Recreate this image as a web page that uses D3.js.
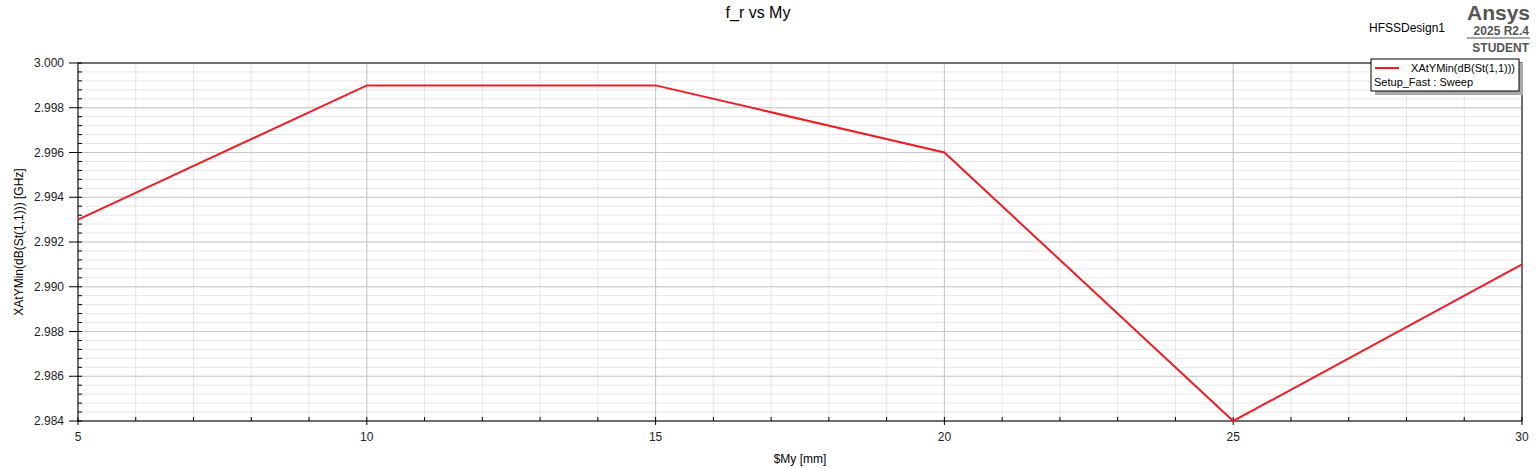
<!DOCTYPE html>
<html><head><meta charset="utf-8">
<script src="https://cdn.jsdelivr.net/npm/d3@7"></script>
<style>body{margin:0;background:#fff}text{font-family:Arial,"Liberation Sans",sans-serif}</style>
</head><body><svg id="chart" width="1538" height="468"></svg>
<script>
const myValues = [5, 10, 15, 20, 25, 30];
const frValues = [2.993, 2.999, 2.999, 2.996, 2.984, 2.991];
const xTickLabels = [5, 10, 15, 20, 25, 30];
const yTickLabels = [2.984, 2.986, 2.988, 2.990, 2.992, 2.994, 2.996, 2.998, 3.000];

const svg = d3.select("#chart");
const pLeft = 78, pRight = 1522, pTop = 63, pBottom = 421;
const x = d3.scaleLinear().domain([5, 30]).range([pLeft, pRight]);
const y = d3.scaleLinear().domain([2.984, 3.0]).range([pBottom, pTop]);

const minorX = d3.range(5, 30.01, 1);
const minorY = d3.range(0, 41).map(i => 2.984 + i * 0.0004);
const g = svg.append("g");
g.selectAll(".mx").data(minorX).join("line")
  .attr("x1", d => x(d)).attr("x2", d => x(d)).attr("y1", pTop).attr("y2", pBottom)
  .attr("stroke", "#e6e6e6");
g.selectAll(".my").data(minorY).join("line")
  .attr("y1", d => y(d)).attr("y2", d => y(d)).attr("x1", pLeft).attr("x2", pRight)
  .attr("stroke", "#e6e6e6");
g.selectAll(".Mx").data(xTickLabels).join("line")
  .attr("x1", d => x(d)).attr("x2", d => x(d)).attr("y1", pTop).attr("y2", pBottom)
  .attr("stroke", "#c8c8c8");
g.selectAll(".My").data(yTickLabels).join("line")
  .attr("y1", d => y(d)).attr("y2", d => y(d)).attr("x1", pLeft).attr("x2", pRight)
  .attr("stroke", "#c8c8c8");

// ticks
g.selectAll(".tx").data(minorX).join("line")
  .attr("x1", d => x(d)).attr("x2", d => x(d)).attr("y1", pBottom - 4).attr("y2", pBottom)
  .attr("stroke", "#000");
g.selectAll(".ty").data(minorY).join("line")
  .attr("y1", d => y(d)).attr("y2", d => y(d)).attr("x1", pLeft).attr("x2", pLeft + 4)
  .attr("stroke", "#000");
g.selectAll(".tX").data(xTickLabels).join("line")
  .attr("x1", d => x(d)).attr("x2", d => x(d)).attr("y1", pBottom).attr("y2", pBottom + 4)
  .attr("stroke", "#000");
g.selectAll(".tY").data(yTickLabels).join("line")
  .attr("y1", d => y(d)).attr("y2", d => y(d)).attr("x1", pLeft - 9).attr("x2", pLeft)
  .attr("stroke", "#000");

g.append("rect").attr("x", pLeft).attr("y", pTop).attr("width", pRight - pLeft).attr("height", pBottom - pTop)
  .attr("fill", "none").attr("stroke", "#000").attr("stroke-width", 1);

g.selectAll(".lx").data(xTickLabels).join("text")
  .attr("x", d => x(d)).attr("y", pBottom + 20).attr("text-anchor", "middle")
  .attr("font-size", 12).attr("fill", "#222").text(d => d);
g.selectAll(".ly").data(yTickLabels).join("text")
  .attr("x", pLeft - 14).attr("y", d => y(d) + 4).attr("text-anchor", "end")
  .attr("font-size", 12).attr("fill", "#222").text(d => d.toFixed(3));

svg.append("path").datum(myValues.map((m, i) => [m, frValues[i]]))
  .attr("d", d3.line().x(d => x(d[0])).y(d => y(d[1])))
  .attr("fill", "none").attr("stroke", "#ee1c25").attr("stroke-width", 2);

svg.append("text").attr("x", 758).attr("y", 18).attr("text-anchor", "middle")
  .attr("font-size", 16).text("f_r vs My");
svg.append("text").attr("x", 800).attr("y", 463).attr("text-anchor", "middle")
  .attr("font-size", 12).text("$My [mm]");
svg.append("text").attr("transform", `translate(23,${(pTop + pBottom) / 2}) rotate(-90)`)
  .attr("text-anchor", "middle").attr("font-size", 12).text("XAtYMin(dB(St(1,1))) [GHz]");

// branding
svg.append("text").attr("x", 1369).attr("y", 32).attr("font-size", 12).text("HFSSDesign1");
svg.append("text").attr("x", 1530).attr("y", 20).attr("text-anchor", "end")
  .attr("font-size", 21).attr("font-weight", "bold").attr("fill", "#555").text("Ansys");
svg.append("text").attr("x", 1529).attr("y", 35).attr("text-anchor", "end")
  .attr("font-size", 12).attr("font-weight", "bold").attr("fill", "#555").text("2025 R2.4");
svg.append("line").attr("x1", 1467).attr("x2", 1530).attr("y1", 38).attr("y2", 38).attr("stroke", "#555");
svg.append("text").attr("x", 1529).attr("y", 52).attr("text-anchor", "end")
  .attr("font-size", 12).attr("font-weight", "bold").attr("fill", "#555").text("STUDENT");

// legend
const lg = svg.append("g");
lg.append("rect").attr("x", 1375).attr("y", 63).attr("width", 148).attr("height", 32).attr("fill", "#aaa");
lg.append("rect").attr("x", 1371).attr("y", 59).attr("width", 148).attr("height", 32)
  .attr("fill", "#fff").attr("stroke", "#000");
lg.append("line").attr("x1", 1375).attr("x2", 1399).attr("y1", 68).attr("y2", 68)
  .attr("stroke", "#ee1c25").attr("stroke-width", 2);
lg.append("text").attr("x", 1515).attr("y", 72).attr("text-anchor", "end").attr("font-size", 11)
  .text("XAtYMin(dB(St(1,1)))");
lg.append("text").attr("x", 1374).attr("y", 86).attr("font-size", 11).text("Setup_Fast : Sweep");
</script></body></html>
